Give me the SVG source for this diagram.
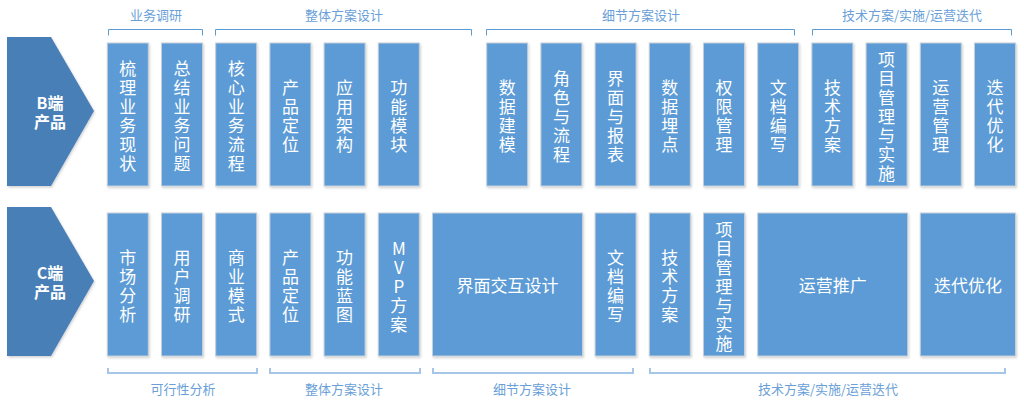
<svg xmlns="http://www.w3.org/2000/svg" width="1024" height="404" viewBox="0 0 1024 404">
<defs>
<filter id="sh" x="-10%" y="-5%" width="130%" height="115%">
<feDropShadow dx="1" dy="1.5" stdDeviation="1.2" flood-color="#000" flood-opacity="0.18"/>
</filter>
</defs>
<style>
.box{fill:#5B9BD5;stroke:#C5CFD9;stroke-width:1;filter:url(#sh)}
.chev{fill:#4A7FB7;filter:url(#sh)}
.vt{font-family:"Noto Sans CJK SC","Microsoft YaHei",sans-serif;font-size:17px;fill:#fff;text-anchor:middle;dominant-baseline:central}
.ct{font-family:"Noto Sans CJK SC",sans-serif;font-size:16px;font-weight:bold;fill:#fff;text-anchor:middle;dominant-baseline:central}
.lbl{font-family:"Noto Sans CJK SC",sans-serif;font-size:13px;fill:#6A9FD8;text-anchor:middle;dominant-baseline:central}
.brt{fill:none;stroke:#5B9BD5;stroke-width:1}
.brb{fill:none;stroke:#A6C6E8;stroke-width:2}
</style>

<g id="brackets">
<path class="brt" d="M108.5,35.5 V29.5 H202.5 V35.5"/>
<path class="brt" d="M215.5,35.5 V29.5 H471.5 V35.5"/>
<path class="brt" d="M486.5,35.5 V29.5 H794.5 V35.5"/>
<path class="brt" d="M812.5,35.5 V29.5 H1011.5 V35.5"/>
<path class="brb" d="M108,368 V373 H257 V368"/>
<path class="brb" d="M270,368 V373 H420 V368"/>
<path class="brb" d="M433,368 V373 H633 V368"/>
<path class="brb" d="M650,368 V373 H1005 V368"/>
</g>

<g id="labels">
<text class="lbl" x="156" y="14">业务调研</text>
<text class="lbl" x="344" y="14">整体方案设计</text>
<text class="lbl" x="641" y="14">细节方案设计</text>
<text class="lbl" x="912" y="14">技术方案/实施/运营迭代</text>
<text class="lbl" x="183" y="388">可行性分析</text>
<text class="lbl" x="344" y="388">整体方案设计</text>
<text class="lbl" x="532" y="388">细节方案设计</text>
<text class="lbl" x="828" y="388">技术方案/实施/运营迭代</text>
</g>

<g id="b-product">
<polygon class="chev" points="7,37 51,37 94,111 51,186 7,186"/>
<text class="ct" x="50" y="102">B端</text>
<text class="ct" x="50" y="121">产品</text>
</g>
<g id="c-product">
<polygon class="chev" points="7,207 51,207 94,281 51,356 7,356"/>
<text class="ct" x="50" y="272">C端</text>
<text class="ct" x="50" y="291">产品</text>
</g>

<!-- Top row -->
<g id="b0"><rect class="box" x="107.3" y="43" width="41" height="143"/><text class="vt"><tspan x="127.8" y="67">梳</tspan><tspan x="127.8" y="86">理</tspan><tspan x="127.8" y="105">业</tspan><tspan x="127.8" y="124">务</tspan><tspan x="127.8" y="143">现</tspan><tspan x="127.8" y="162">状</tspan></text></g>
<g id="b1"><rect class="box" x="161.5" y="43" width="41" height="143"/><text class="vt"><tspan x="182" y="67">总</tspan><tspan x="182" y="86">结</tspan><tspan x="182" y="105">业</tspan><tspan x="182" y="124">务</tspan><tspan x="182" y="143">问</tspan><tspan x="182" y="162">题</tspan></text></g>
<g id="b2"><rect class="box" x="215.7" y="43" width="41" height="143"/><text class="vt"><tspan x="236.2" y="67">核</tspan><tspan x="236.2" y="86">心</tspan><tspan x="236.2" y="105">业</tspan><tspan x="236.2" y="124">务</tspan><tspan x="236.2" y="143">流</tspan><tspan x="236.2" y="162">程</tspan></text></g>
<g id="b3"><rect class="box" x="269.9" y="43" width="41" height="143"/><text class="vt"><tspan x="290.4" y="86">产</tspan><tspan x="290.4" y="105">品</tspan><tspan x="290.4" y="124">定</tspan><tspan x="290.4" y="143">位</tspan></text></g>
<g id="b4"><rect class="box" x="324.1" y="43" width="41" height="143"/><text class="vt"><tspan x="344.6" y="86">应</tspan><tspan x="344.6" y="105">用</tspan><tspan x="344.6" y="124">架</tspan><tspan x="344.6" y="143">构</tspan></text></g>
<g id="b5"><rect class="box" x="378.3" y="43" width="41" height="143"/><text class="vt"><tspan x="398.8" y="86">功</tspan><tspan x="398.8" y="105">能</tspan><tspan x="398.8" y="124">模</tspan><tspan x="398.8" y="143">块</tspan></text></g>
<g id="b7"><rect class="box" x="486.7" y="43" width="41" height="143"/><text class="vt"><tspan x="507.2" y="86">数</tspan><tspan x="507.2" y="105">据</tspan><tspan x="507.2" y="124">建</tspan><tspan x="507.2" y="143">模</tspan></text></g>
<g id="b8"><rect class="box" x="540.9" y="43" width="41" height="143"/><text class="vt"><tspan x="561.4" y="76.5">角</tspan><tspan x="561.4" y="95.5">色</tspan><tspan x="561.4" y="114.5">与</tspan><tspan x="561.4" y="133.5">流</tspan><tspan x="561.4" y="152.5">程</tspan></text></g>
<g id="b9"><rect class="box" x="595.1" y="43" width="41" height="143"/><text class="vt"><tspan x="615.6" y="76.5">界</tspan><tspan x="615.6" y="95.5">面</tspan><tspan x="615.6" y="114.5">与</tspan><tspan x="615.6" y="133.5">报</tspan><tspan x="615.6" y="152.5">表</tspan></text></g>
<g id="b10"><rect class="box" x="649.3" y="43" width="41" height="143"/><text class="vt"><tspan x="669.8" y="86">数</tspan><tspan x="669.8" y="105">据</tspan><tspan x="669.8" y="124">埋</tspan><tspan x="669.8" y="143">点</tspan></text></g>
<g id="b11"><rect class="box" x="703.5" y="43" width="41" height="143"/><text class="vt"><tspan x="724" y="86">权</tspan><tspan x="724" y="105">限</tspan><tspan x="724" y="124">管</tspan><tspan x="724" y="143">理</tspan></text></g>
<g id="b12"><rect class="box" x="757.7" y="43" width="41" height="143"/><text class="vt"><tspan x="778.2" y="86">文</tspan><tspan x="778.2" y="105">档</tspan><tspan x="778.2" y="124">编</tspan><tspan x="778.2" y="143">写</tspan></text></g>
<g id="b13"><rect class="box" x="811.9" y="43" width="41" height="143"/><text class="vt"><tspan x="832.4" y="86">技</tspan><tspan x="832.4" y="105">术</tspan><tspan x="832.4" y="124">方</tspan><tspan x="832.4" y="143">案</tspan></text></g>
<g id="b14"><rect class="box" x="866.1" y="43" width="41" height="143"/><text class="vt"><tspan x="886.6" y="57.5">项</tspan><tspan x="886.6" y="76.5">目</tspan><tspan x="886.6" y="95.5">管</tspan><tspan x="886.6" y="114.5">理</tspan><tspan x="886.6" y="133.5">与</tspan><tspan x="886.6" y="152.5">实</tspan><tspan x="886.6" y="171.5">施</tspan></text></g>
<g id="b15"><rect class="box" x="920.3" y="43" width="41" height="143"/><text class="vt"><tspan x="940.8" y="86">运</tspan><tspan x="940.8" y="105">营</tspan><tspan x="940.8" y="124">管</tspan><tspan x="940.8" y="143">理</tspan></text></g>
<g id="b16"><rect class="box" x="974.5" y="43" width="41" height="143"/><text class="vt"><tspan x="995" y="86">迭</tspan><tspan x="995" y="105">代</tspan><tspan x="995" y="124">优</tspan><tspan x="995" y="143">化</tspan></text></g>

<!-- Bottom row -->
<g id="c0"><rect class="box" x="107.3" y="213" width="41" height="143"/><text class="vt"><tspan x="127.8" y="256">市</tspan><tspan x="127.8" y="275">场</tspan><tspan x="127.8" y="294">分</tspan><tspan x="127.8" y="313">析</tspan></text></g>
<g id="c1"><rect class="box" x="161.5" y="213" width="41" height="143"/><text class="vt"><tspan x="182" y="256">用</tspan><tspan x="182" y="275">户</tspan><tspan x="182" y="294">调</tspan><tspan x="182" y="313">研</tspan></text></g>
<g id="c2"><rect class="box" x="215.7" y="213" width="41" height="143"/><text class="vt"><tspan x="236.2" y="256">商</tspan><tspan x="236.2" y="275">业</tspan><tspan x="236.2" y="294">模</tspan><tspan x="236.2" y="313">式</tspan></text></g>
<g id="c3"><rect class="box" x="269.9" y="213" width="41" height="143"/><text class="vt"><tspan x="290.4" y="256">产</tspan><tspan x="290.4" y="275">品</tspan><tspan x="290.4" y="294">定</tspan><tspan x="290.4" y="313">位</tspan></text></g>
<g id="c4"><rect class="box" x="324.1" y="213" width="41" height="143"/><text class="vt"><tspan x="344.6" y="256">功</tspan><tspan x="344.6" y="275">能</tspan><tspan x="344.6" y="294">蓝</tspan><tspan x="344.6" y="313">图</tspan></text></g>
<g id="c5"><rect class="box" x="378.3" y="213" width="41" height="143"/><text class="vt"><tspan x="398.8" y="246.5">M</tspan><tspan x="398.8" y="265.5">V</tspan><tspan x="398.8" y="284.5">P</tspan><tspan x="398.8" y="303.5">方</tspan><tspan x="398.8" y="322.5">案</tspan></text></g>
<g id="c6"><rect class="box" x="432.5" y="213" width="150" height="143"/><text class="vt" x="507.5" y="284.5">界面交互设计</text></g>
<g id="c9"><rect class="box" x="595.1" y="213" width="41" height="143"/><text class="vt"><tspan x="615.6" y="256">文</tspan><tspan x="615.6" y="275">档</tspan><tspan x="615.6" y="294">编</tspan><tspan x="615.6" y="313">写</tspan></text></g>
<g id="c10"><rect class="box" x="649.3" y="213" width="41" height="143"/><text class="vt"><tspan x="669.8" y="256">技</tspan><tspan x="669.8" y="275">术</tspan><tspan x="669.8" y="294">方</tspan><tspan x="669.8" y="313">案</tspan></text></g>
<g id="c11"><rect class="box" x="703.5" y="213" width="41" height="143"/><text class="vt"><tspan x="724" y="227.5">项</tspan><tspan x="724" y="246.5">目</tspan><tspan x="724" y="265.5">管</tspan><tspan x="724" y="284.5">理</tspan><tspan x="724" y="303.5">与</tspan><tspan x="724" y="322.5">实</tspan><tspan x="724" y="341.5">施</tspan></text></g>
<g id="c12"><rect class="box" x="757.7" y="213" width="150" height="143"/><text class="vt" x="832.7" y="284.5">运营推广</text></g>
<g id="c15"><rect class="box" x="920.3" y="213" width="95.2" height="143"/><text class="vt" x="967.9" y="284.5">迭代优化</text></g>

<g id="connectors"></g>
</svg>
